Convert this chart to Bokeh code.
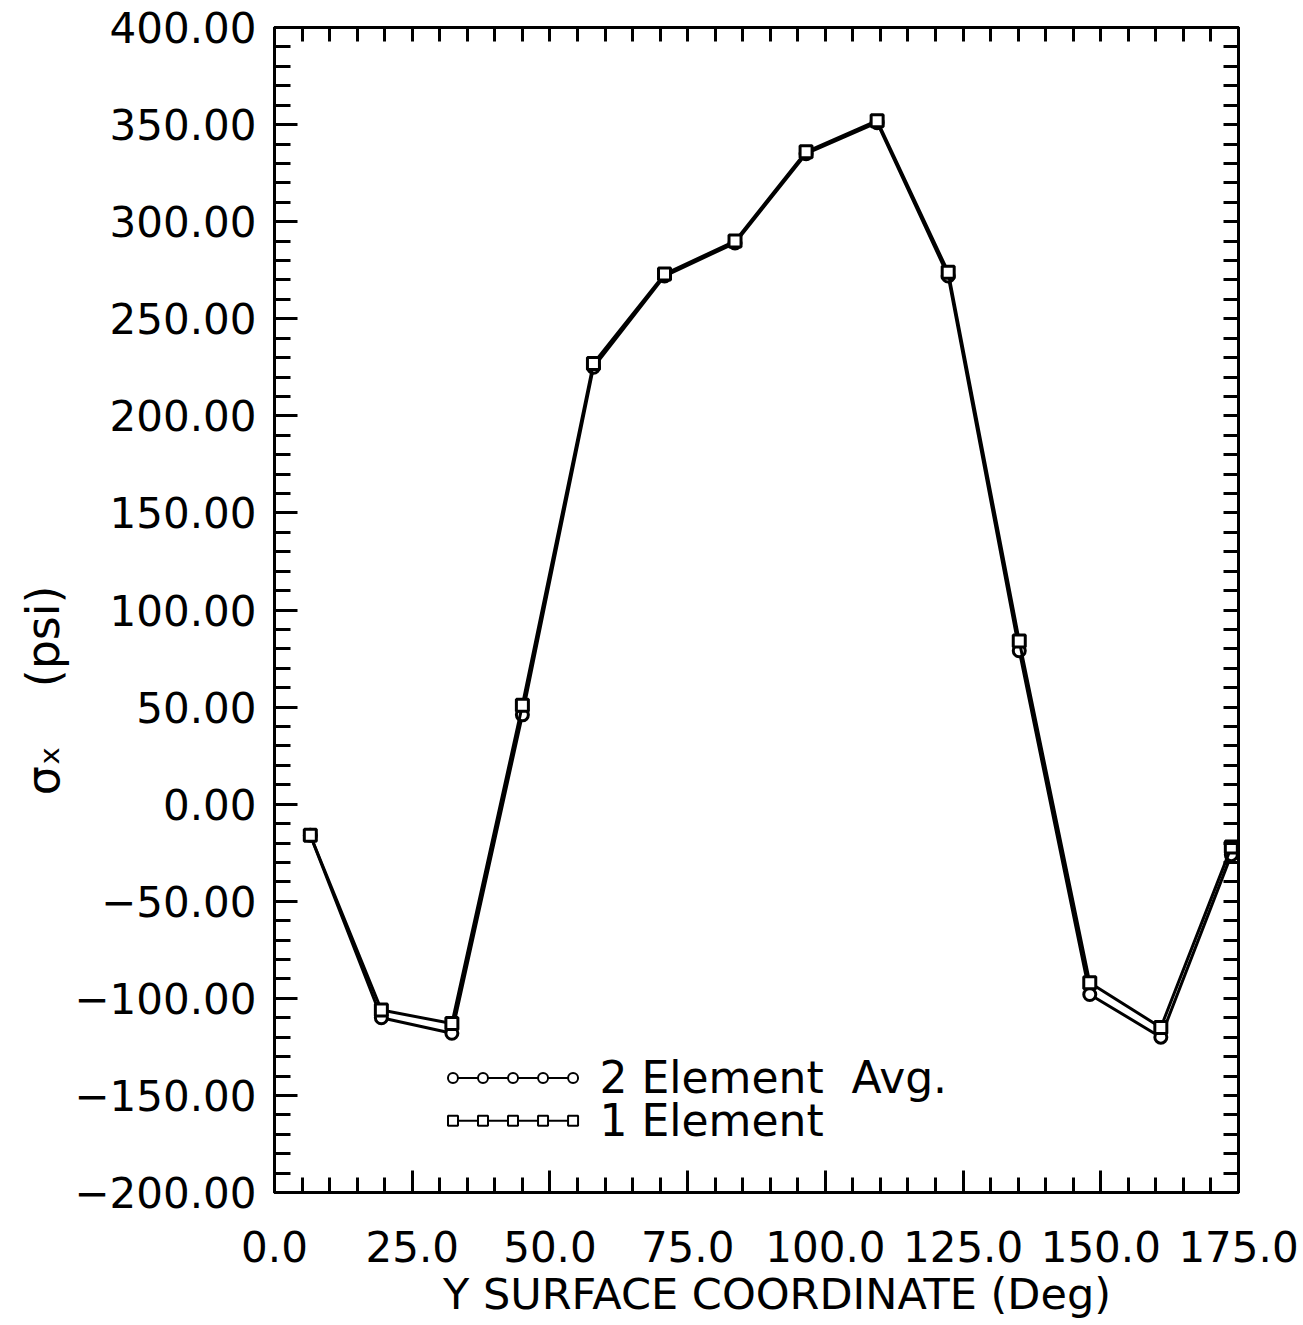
from bokeh.plotting import figure
from bokeh.models import Range1d, FixedTicker, LinearAxis, Label, Title
from bokeh.embed import file_html
from bokeh.resources import INLINE

# Surface coordinate (deg) of each element centre
y_coord = [6.5, 19.4, 32.2, 45.0, 57.9, 70.8, 83.6, 96.5, 109.4, 122.3, 135.2, 148.0, 160.9, 173.7]

# Sigma-x stress (psi)
two_element_avg = [-16, -110, -118, 46, 225, 272, 289, 335, 351, 272, 79, -98, -120, -26]
one_element = [-16, -106, -113, 51, 227, 273, 290, 336, 352, 274, 84, -92, -115, -22]

NBSP = "\u00a0"
series_names = ["2 Element" + NBSP * 2 + "Avg.", "1 Element"]
# trailing padding keeps the visible title below the frame's mid-height
y_title = "\u03c3\u2093" + NBSP * 4 + "(psi)" + NBSP * 11
x_title = NBSP * 3 + "Y SURFACE COORDINATE (Deg)"

x_major = [0, 25, 50, 75, 100, 125, 150, 175]
x_minor = list(range(0, 176, 5))
y_major = list(range(-200, 401, 50))
y_minor = list(range(-200, 401, 10))

FONT = "DejaVu Sans"
INK = "black"

p = figure(
    width=1303, height=1325,
    x_range=Range1d(0, 175), y_range=Range1d(-200, 400),
    output_backend="svg", toolbar_location=None,
    min_border_left=274, min_border_right=65,
    min_border_top=27, min_border_bottom=133,
    x_axis_location=None, y_axis_location=None,
)
p.grid.visible = False
p.background_fill_color = "white"
p.border_fill_color = "white"
p.outline_line_color = INK
p.outline_line_width = 3

def style_axis(ax):
    ax.axis_line_width = 3
    ax.axis_line_color = INK
    ax.major_tick_line_width = 3
    ax.minor_tick_line_width = 3
    ax.major_tick_line_color = INK
    ax.minor_tick_line_color = INK
    ax.major_tick_out = 0
    ax.minor_tick_out = 0
    ax.major_label_text_font = FONT
    ax.major_label_text_color = INK
    ax.axis_label_text_font = FONT
    ax.axis_label_text_font_style = "normal"
    ax.axis_label_text_color = INK

# bottom axis
xb = LinearAxis(ticker=FixedTicker(ticks=x_major, minor_ticks=x_minor))
style_axis(xb)
xb.major_tick_in = 22
xb.minor_tick_in = 15
xb.major_label_overrides = {v: f"{v:.1f}" for v in x_major}
xb.major_label_text_font_size = "42px"
xb.major_label_standoff = 38
xb.axis_label = x_title
xb.axis_label_text_font_size = "43px"
xb.axis_label_standoff = 4
p.add_layout(xb, "below")

# left axis
yl = LinearAxis(ticker=FixedTicker(ticks=y_major, minor_ticks=y_minor))
style_axis(yl)
yl.major_tick_in = 23
yl.minor_tick_in = 16
yl.major_label_overrides = {v: f"{v:.2f}".replace("-", "\u2212") for v in y_major}
yl.major_label_text_font_size = "42px"
yl.major_label_standoff = 18
p.add_layout(yl, "left")

# y-axis title: sigma-x and units, set outside the tick labels
p.add_layout(Title(text=y_title, align="center",
                   text_font=FONT, text_font_size="46px",
                   text_font_style="normal", text_color=INK, standoff=4), "left")

# top axis: evenly spaced short ticks, no labels
xt = LinearAxis(ticker=FixedTicker(ticks=x_minor, minor_ticks=[]))
style_axis(xt)
xt.major_tick_in = 14
xt.major_label_text_color = None
xt.major_label_standoff = 0
p.add_layout(xt, "above")

# right axis: evenly spaced short ticks, no labels
yr = LinearAxis(ticker=FixedTicker(ticks=y_minor, minor_ticks=[]))
style_axis(yr)
yr.major_tick_in = 15
yr.major_label_text_color = None
yr.major_label_standoff = 0
p.add_layout(yr, "right")

# data curves
markers = ["circle", "square"]
for vals, mk in zip([two_element_avg, one_element], markers):
    p.line(y_coord, vals, line_color=INK, line_width=3)
    p.scatter(y_coord, vals, marker=mk, size=12, fill_color="white",
              line_color=INK, line_width=3)

# legend: five sample markers joined by a line, then the name
leg_x = [32.4 + 5.45 * i for i in range(5)]
leg_y = [-141, -163]
for name, mk, ly in zip(series_names, markers, leg_y):
    p.line(leg_x, [ly] * 5, line_color=INK, line_width=2)
    p.scatter(leg_x, [ly] * 5, marker=mk, size=10, fill_color="white",
              line_color=INK, line_width=2)
    p.add_layout(Label(x=59.0, y=ly, text=name, text_align="left",
                       text_baseline="middle", text_font=FONT,
                       text_font_size="44px", text_color=INK))

open("out.html", "w").write(file_html(p, INLINE))
